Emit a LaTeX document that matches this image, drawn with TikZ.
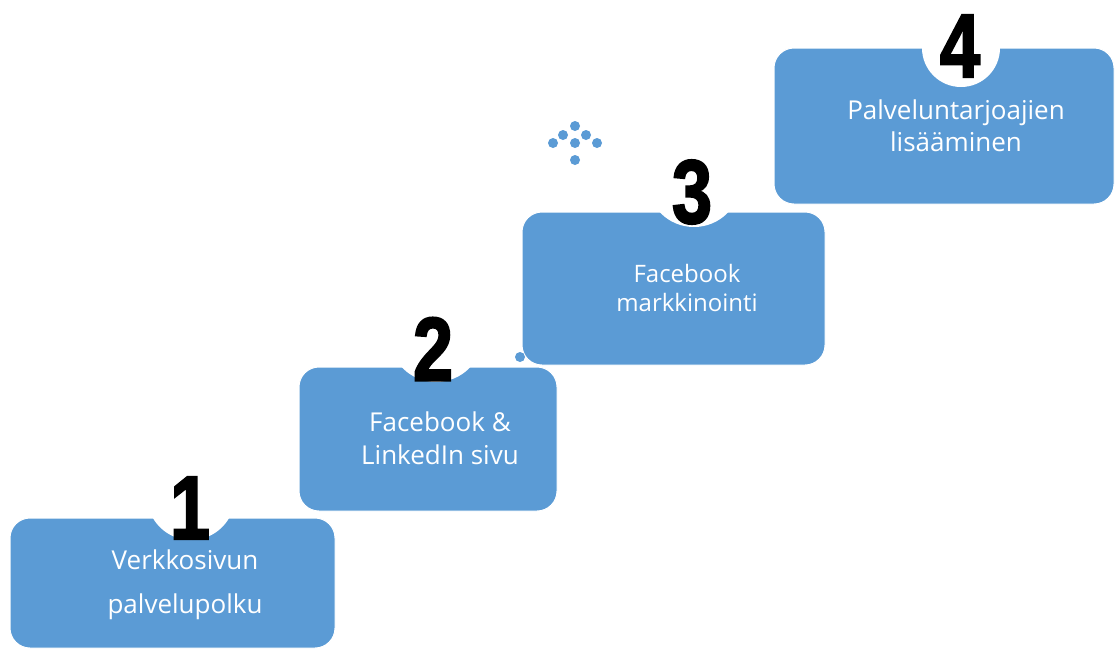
\documentclass[tikz,border=0pt]{standalone}
\usepackage{fontspec}
\setmainfont{Open Sans}
\newfontfamily\numfont[FakeBold=2.5]{Liberation Sans Bold}
\definecolor{stepblue}{HTML}{5B9BD5}
\tikzset{
  stepbox/.style={fill=stepblue, draw=white, line width=1pt, rounded corners=20pt},
  notch/.style={fill=white},
  steptext/.style={text=white, align=center, font=\fontsize{26}{33}\selectfont},
  stepnum/.style={text=black, inner sep=0pt, font=\numfont\fontsize{90}{90}\selectfont, xscale=0.8},
  bluedot/.style={fill=stepblue}
}
\begin{document}
\begin{tikzpicture}[x=1pt, y=-1pt]
	\useasboundingbox (0,0) rectangle (1117,649);

	% step boxes
	\draw[stepbox] (10,518) rectangle (335,648);
	\draw[stepbox] (299,367) rectangle (557,511);
	\draw[stepbox] (522,212) rectangle (825,365);
	\draw[stepbox] (774,48) rectangle (1114,204);

	% notches
	\fill[notch] (191,496) circle (44);
	\fill[notch] (436,335) circle (47);
	\fill[notch] (694,180) circle (47);
	\fill[notch] (961,48) circle (39);

	% numbers
	\node[stepnum] (n1) at (190,508) {1};
	\node[stepnum] (n2) at (433,349) {2};
	\node[stepnum] (n3) at (692,192) {3};
	\node[stepnum] (n4) at (960,46) {4};

	% labels
	\node[steptext, font=\fontsize{26}{44}\selectfont] (t1) at (185,585) {Verkkosivun\\palvelupolku};
	\node[steptext] (t2) at (440,438) {Facebook \&\\LinkedIn sivu};
	\node[steptext, font=\fontsize{24}{29}\selectfont] (t3) at (687,288) {Facebook\\markkinointi};
	\node[steptext, font=\fontsize{26}{32}\selectfont] (t4) at (956,126) {Palveluntarjoajien\\lisääminen};

	% dots
	\foreach \x/\y in {575/126, 563/135, 586/135, 553/143, 575/143, 597/143, 575/160, 520/357}
		\fill[bluedot] (\x,\y) circle (5);
\end{tikzpicture}
\end{document}
